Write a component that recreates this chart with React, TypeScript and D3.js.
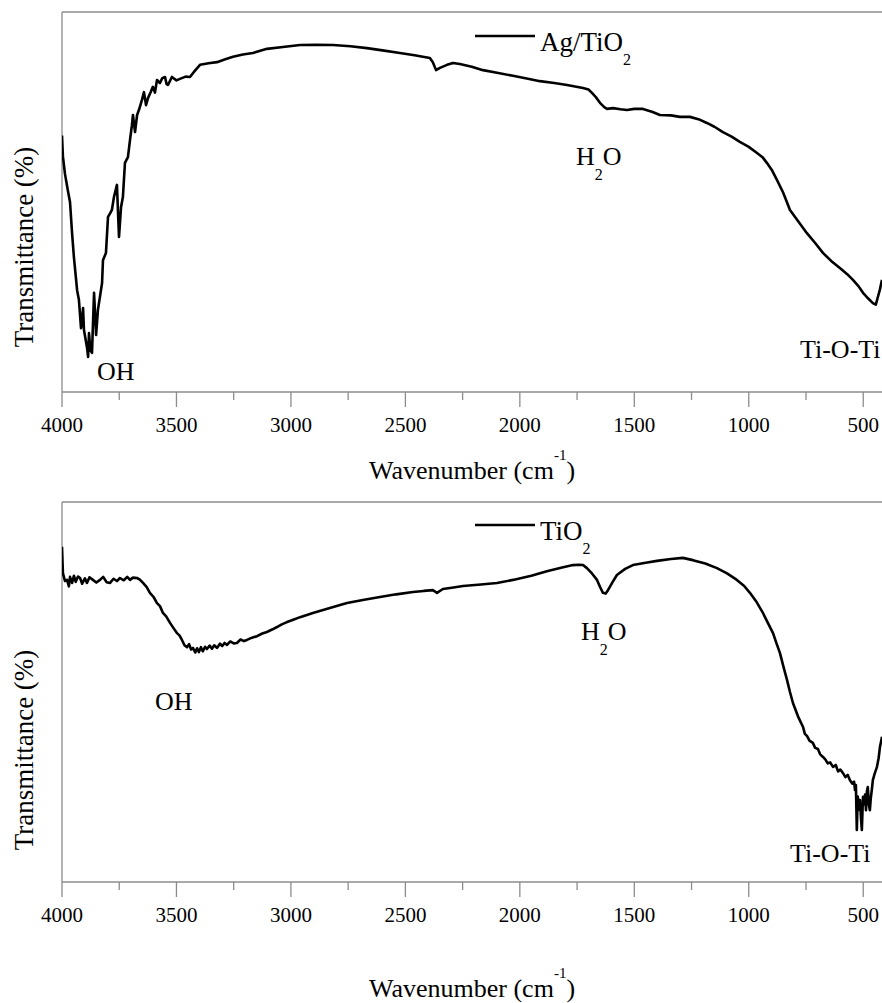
import React from "react";
import * as d3 from "d3";

// FTIR spectrum of Ag/TiO2 (wavenumber in cm^-1, transmittance in arbitrary %)
const AG_WN = [
  4000, 3996, 3987, 3974, 3965, 3956, 3948, 3934, 3926, 3917, 3912, 3908, 3904, 3891, 3886, 3882,
  3876, 3869, 3860, 3851, 3843, 3825, 3821, 3808, 3799, 3790, 3782, 3773, 3760, 3751, 3742, 3734,
  3725, 3712, 3703, 3695, 3690, 3681, 3672, 3664, 3651, 3642, 3633, 3624, 3612, 3603, 3594, 3585,
  3572, 3562, 3550, 3543, 3537, 3520, 3500, 3485, 3460, 3441, 3420, 3397, 3360, 3323, 3290, 3253,
  3210, 3166, 3105, 3035, 2960, 2890, 2816, 2740, 2668, 2600, 2524, 2460, 2393, 2380, 2366, 2358,
  2349, 2318, 2292, 2262, 2210, 2161, 2100, 2030, 1970, 1912, 1850, 1794, 1724, 1700, 1685, 1668,
  1650, 1630, 1619, 1593, 1560, 1532, 1500, 1462, 1420, 1388, 1340, 1301, 1257, 1220, 1183, 1150,
  1113, 1075, 1039, 1000, 964, 940, 921, 900, 877, 850, 820, 785, 746, 710, 676, 640,
  602, 570, 545, 520, 501, 478, 458, 445, 436, 427, 418,
];
const AG_T = [
  67.5, 62.0, 57.4, 52.9, 50.0, 41.8, 35.5, 26.8, 24.2, 16.8, 19.5, 22.1, 16.3, 11.8, 9.2, 15.5,
  11.0, 10.3, 26.1, 15.0, 21.6, 28.7, 34.7, 36.6, 46.1, 47.0, 47.9, 51.3, 54.5, 40.8, 48.7, 51.3,
  60.3, 61.8, 66.3, 70.0, 72.9, 68.4, 72.9, 74.2, 76.8, 78.9, 75.5, 77.4, 79.0, 80.3, 78.8, 82.1,
  81.3, 82.6, 82.9, 81.0, 80.8, 82.9, 82.0, 82.4, 83.0, 82.9, 84.5, 86.1, 86.5, 86.8, 87.5, 88.2,
  88.8, 89.2, 90.3, 90.8, 91.3, 91.4, 91.3, 91.0, 90.5, 89.9, 89.2, 88.6, 87.9, 86.8, 84.7, 85.0,
  85.3, 86.1, 86.6, 86.3, 85.6, 84.7, 84.0, 83.2, 82.5, 81.8, 81.3, 80.8, 80.0, 79.6, 78.7, 77.6,
  76.1, 74.9, 74.5, 74.7, 74.4, 74.2, 74.5, 74.5, 73.7, 72.9, 72.8, 72.4, 72.4, 71.8, 70.8, 69.8,
  68.4, 67.2, 65.8, 64.5, 62.9, 61.8, 60.3, 58.5, 55.8, 52.5, 47.9, 45.0, 41.8, 39.2, 36.6, 34.5,
  32.6, 31.0, 29.5, 27.8, 26.1, 24.6, 23.4, 23.0, 25.0, 27.0, 29.5,
];

// FTIR spectrum of bare TiO2
const TIO2_WN = [
  4000, 3996, 3987, 3978, 3970, 3965, 3956, 3948, 3940, 3930, 3921, 3912, 3900, 3891, 3880, 3865,
  3850, 3834, 3820, 3805, 3790, 3775, 3760, 3747, 3730, 3715, 3703, 3690, 3672, 3660, 3646, 3630,
  3616, 3600, 3585, 3572, 3559, 3545, 3528, 3515, 3498, 3487, 3476, 3465, 3454, 3445, 3436, 3428,
  3418, 3410, 3402, 3393, 3385, 3375, 3367, 3355, 3345, 3335, 3323, 3310, 3300, 3290, 3279, 3265,
  3250, 3236, 3220, 3205, 3192, 3170, 3148, 3125, 3105, 3080, 3061, 3040, 3017, 2990, 2960, 2904,
  2830, 2755, 2680, 2611, 2540, 2467, 2420, 2380, 2362, 2336, 2290, 2248, 2170, 2100, 2030, 1950,
  1882, 1820, 1768, 1740, 1724, 1707, 1685, 1663, 1650, 1637, 1625, 1615, 1595, 1576, 1540, 1506,
  1450, 1401, 1340, 1288, 1244, 1190, 1139, 1095, 1052, 1020, 995, 965, 938, 915, 894, 880,
  864, 850, 833, 820, 807, 785, 763, 755, 745, 735, 720, 710, 698, 688, 676, 665, 655, 645,
  632, 620, 610, 600, 589, 578, 568, 558, 548, 540, 536, 532, 528, 524, 520, 514, 510, 506,
  501, 496, 492, 488, 484, 480, 475, 471, 467, 462, 458, 450, 440, 433, 427, 422, 418,
];
const TIO2_T = [
  88.2, 81.3, 79.2, 79.5, 77.8, 80.3, 78.7, 80.6, 79.0, 80.4, 80.0, 78.5, 79.9, 78.7, 80.2, 79.5,
  78.8, 79.5, 80.3, 78.9, 78.7, 79.8, 79.2, 80.0, 79.4, 80.3, 79.5, 80.1, 80.0, 79.6, 78.7, 77.6,
  76.1, 75.0, 73.4, 72.6, 70.8, 69.9, 68.2, 67.0, 65.5, 64.9, 63.7, 62.3, 61.8, 62.6, 61.2, 61.6,
  60.4, 61.5, 60.5, 61.8, 60.7, 61.9, 61.3, 62.2, 61.4, 62.3, 61.6, 62.7, 62.1, 62.9, 62.4, 63.3,
  62.8, 62.9, 63.8, 63.4, 63.7, 64.3, 64.7, 65.4, 65.8, 66.5, 67.1, 67.8, 68.4, 69.0, 69.7, 70.8,
  72.1, 73.4, 74.3, 75.0, 75.7, 76.3, 76.6, 76.8, 76.1, 77.1, 77.5, 77.9, 78.3, 78.7, 79.5, 80.6,
  81.8, 82.7, 83.4, 83.5, 83.4, 82.6, 81.2, 79.5, 77.7, 76.1, 75.9, 76.8, 78.9, 80.8, 82.4, 83.4,
  84.0, 84.5, 85.0, 85.3, 84.7, 83.8, 82.6, 81.2, 79.5, 77.9, 76.1, 73.6, 70.8, 68.0, 65.5, 63.0,
  60.3, 57.0, 53.2, 50.0, 47.1, 43.6, 40.8, 39.0, 38.4, 37.2, 36.6, 35.3, 35.0, 33.6, 32.9, 32.2, 31.2, 31.5,
  30.3, 30.8, 29.1, 29.6, 28.7, 27.6, 28.2, 26.8, 25.9, 26.4, 24.2, 25.5, 13.7, 22.5, 19.0, 21.6, 17.0, 13.7,
  22.4, 20.5, 23.0, 18.9, 23.8, 25.0, 20.2, 18.9, 22.0, 24.5, 26.8, 28.5, 30.3, 32.5, 35.5, 37.0, 38.2,
];

const TICKS = [4000, 3500, 3000, 2500, 2000, 1500, 1000, 500];
const MINOR_TICKS = [3750, 3250, 2750, 2250, 1750, 1250, 750];

const W = 882;
const H = 1003;
const LEFT = 62;
const RIGHT = 882;
const AXIS = "#8c8c8c";
const FONT = "Liberation Serif, DejaVu Serif, serif";
const txt = { fontFamily: FONT };

const x = d3.scaleLinear().domain([4000, 418]).range([LEFT, RIGHT]);

type PanelProps = {
  top: number;
  bottom: number;
  wn: number[];
  t: number[];
  id: string;
};

function Panel({ top, bottom, wn, t, id }: PanelProps) {
  const y = d3.scaleLinear().domain([0, 100]).range([bottom, top]);
  const pts = wn.map((w, i) => [w, t[i]] as [number, number]);
  const line = d3
    .line<[number, number]>()
    .x((d) => x(d[0]))
    .y((d) => y(d[1]));
  return (
    <g>
      <defs>
        <clipPath id={id}>
          <rect x={LEFT} y={top} width={RIGHT - LEFT} height={bottom - top} />
        </clipPath>
      </defs>
      <line x1={LEFT} x2={W} y1={top} y2={top} stroke={AXIS} strokeWidth={1.3} />
      <line x1={LEFT} x2={LEFT} y1={top} y2={bottom} stroke={AXIS} strokeWidth={1.3} />
      <line x1={LEFT} x2={W} y1={bottom} y2={bottom} stroke={AXIS} strokeWidth={1.3} />
      {TICKS.map((v) => (
        <g key={v}>
          <line x1={x(v)} x2={x(v)} y1={bottom} y2={bottom + 15} stroke={AXIS} strokeWidth={1.3} />
          <text x={x(v)} y={bottom + 40} textAnchor="middle" style={txt} fontSize={21} fill="#000">
            {v}
          </text>
        </g>
      ))}
      {MINOR_TICKS.map((v) => (
        <line key={v} x1={x(v)} x2={x(v)} y1={bottom} y2={bottom + 8} stroke={AXIS} strokeWidth={1.3} />
      ))}
      <path
        d={line(pts) || ""}
        fill="none"
        stroke="#000"
        strokeWidth={2.6}
        strokeLinejoin="round"
        clipPath={`url(#${id})`}
      />
    </g>
  );
}

function XTitle({ baseline }: { baseline: number }) {
  return (
    <text x={369} y={baseline} style={txt} fontSize={26} fill="#000">
      Wavenumber (cm
      <tspan fontSize={15} dy={-19}>-1</tspan>
      <tspan dy={19}>)</tspan>
    </text>
  );
}

function YTitle({ cy }: { cy: number }) {
  return (
    <text
      transform={`translate(33,${cy}) rotate(-90)`}
      textAnchor="middle"
      style={txt}
      fontSize={27}
      fill="#000"
    >
      Transmittance (%)
    </text>
  );
}

function Label({ x0, y0, text }: { x0: number; y0: number; text: string }) {
  return (
    <text x={x0} y={y0} style={txt} fontSize={26} fill="#000">
      {text}
    </text>
  );
}

function Water({ x0, y0, dx }: { x0: number; y0: number; dx: number }) {
  return (
    <text x={x0} y={y0} style={txt} fontSize={26} fill="#000">
      H
      <tspan dy={15} fontSize={16}>2</tspan>
      <tspan dy={-15} dx={dx}>O</tspan>
    </text>
  );
}

function Legend({ y0, name }: { y0: number; name: string }) {
  return (
    <g>
      <line x1={475} x2={535} y1={y0 - 15} y2={y0 - 15} stroke="#000" strokeWidth={2.6} />
      <text x={540} y={y0} style={txt} fontSize={27} fill="#000">
        {name}
        <tspan dy={14} fontSize={16}>2</tspan>
      </text>
    </g>
  );
}

export default function App() {
  return (
    <svg
      width={W}
      height={H}
      style={{ position: "absolute", left: 0, top: 0, background: "#fff" }}
    >
      <rect width={W} height={H} fill="#fff" />
      <Panel top={12} bottom={392} wn={AG_WN} t={AG_T} id="clip-ag" />
      <Panel top={502} bottom={882} wn={TIO2_WN} t={TIO2_T} id="clip-tio2" />

      <XTitle baseline={479} />
      <XTitle baseline={997} />
      <YTitle cy={247} />
      <YTitle cy={750} />

      <Legend y0={51} name="Ag/TiO" />
      <Legend y0={540} name="TiO" />

      <Label x0={97} y0={380} text="OH" />
      <Water x0={576} y0={165} dx={0} />
      <Label x0={800} y0={358} text="Ti-O-Ti" />

      <Label x0={155} y0={710} text="OH" />
      <Water x0={581} y0={640} dx={0} />
      <Label x0={790} y0={862} text="Ti-O-Ti" />
    </svg>
  );
}
